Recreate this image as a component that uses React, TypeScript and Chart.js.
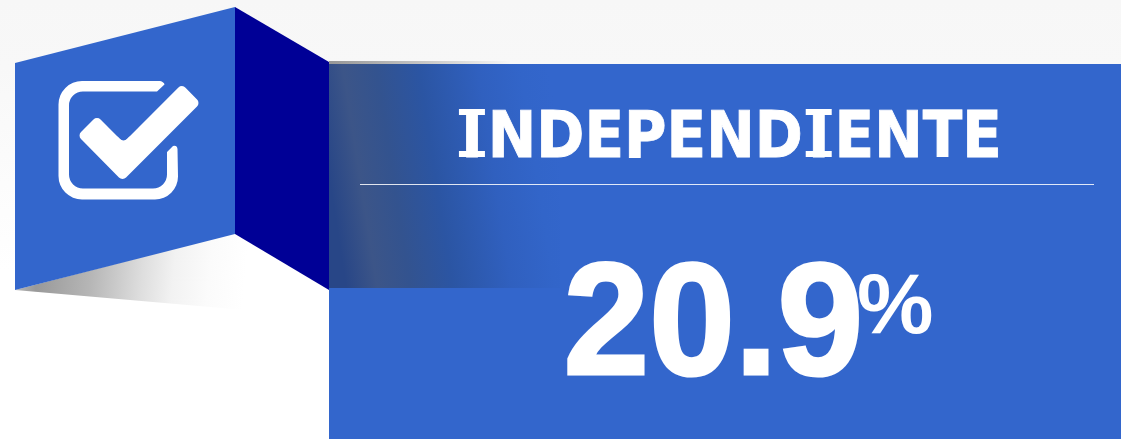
import React, { useEffect, useRef } from "react";
import { Chart, registerables } from "chart.js";

Chart.register(...registerables);

const categories: string[] = ["INDEPENDIENTE"];
const shareValues: number[] = [20.9];
const unitLabels: string[] = ["%"];

const BLUE = "#3366cc";
const NAVY = "#000096";

type P = [number, number];

function poly(ctx: CanvasRenderingContext2D, pts: P[], fill: string | CanvasGradient) {
  ctx.beginPath();
  pts.forEach(([x, y], i) => (i ? ctx.lineTo(x, y) : ctx.moveTo(x, y)));
  ctx.closePath();
  ctx.fillStyle = fill;
  ctx.fill();
}

function roundedPoly(ctx: CanvasRenderingContext2D, pts: P[], r: number) {
  const n = pts.length;
  const mid = (a: P, b: P): P => [(a[0] + b[0]) / 2, (a[1] + b[1]) / 2];
  const s = mid(pts[n - 1], pts[0]);
  ctx.beginPath();
  ctx.moveTo(s[0], s[1]);
  for (let i = 0; i < n; i++) {
    const a = pts[i];
    const b = pts[(i + 1) % n];
    ctx.arcTo(a[0], a[1], b[0], b[1], r);
  }
  ctx.closePath();
  ctx.fillStyle = "#fff";
  ctx.fill();
}

function drawIcon(ctx: CanvasRenderingContext2D) {
  ctx.beginPath();
  ctx.moveTo(160, 81);
  ctx.lineTo(82, 81);
  ctx.arcTo(58.5, 81, 58.5, 104.5, 23.5);
  ctx.lineTo(58.5, 176);
  ctx.arcTo(58.5, 199.5, 82, 199.5, 23.5);
  ctx.lineTo(155, 199.5);
  ctx.arcTo(178, 199.5, 178, 176, 23);
  ctx.lineTo(177.5, 149);
  ctx.quadraticCurveTo(177, 145, 173, 146);
  ctx.lineTo(167, 152);
  ctx.lineTo(167, 174);
  ctx.arcTo(167, 188.5, 153, 188.5, 14);
  ctx.lineTo(83, 188.5);
  ctx.arcTo(69, 188.5, 69, 174.5, 14);
  ctx.lineTo(69, 106);
  ctx.arcTo(69, 91.5, 83, 91.5, 14);
  ctx.lineTo(157, 91.5);
  ctx.lineTo(164.5, 84.5);
  ctx.quadraticCurveTo(164, 82, 160, 81);
  ctx.closePath();
  ctx.fillStyle = "#fff";
  ctx.fill();
  roundedPoly(
    ctx,
    [
      [123.5, 142.5],
      [182, 84],
      [200.5, 103],
      [122.5, 181],
      [77.5, 135.5],
      [97, 116],
    ],
    5
  );
  poly(ctx, [[123.5, 142.5], [130, 136], [123.5, 150], [117, 136]], "#fff");
}

function drawHeading(ctx: CanvasRenderingContext2D, text: string) {
  const size = 58;
  const baseline = 157;
  ctx.save();
  ctx.font = `bold ${size}px "DejaVu Sans"`;
  ctx.textAlign = "center";
  ctx.fillStyle = "#fff";
  ctx.strokeStyle = "#fff";
  ctx.lineWidth = 0.8;
  ctx.lineJoin = "miter";
  const adv = (c: string) => (c === "I" ? 0.546 * size : ctx.measureText(c).width);
  const total = [...text].reduce((sum, c) => sum + adv(c), 0);
  let x = 729 - total / 2;
  for (const c of text) {
    const w = adv(c);
    const cx = x + w / 2;
    ctx.save();
    ctx.translate(cx, baseline);
    ctx.scale(1, 1.11);
    ctx.fillText(c, 0, -0.3);
    ctx.strokeText(c, 0, -0.3);
    ctx.restore();
    if (c === "I") {
      // slab bars of the capital I, which the installed bold face lacks
      ctx.fillRect(cx - 13, baseline - 48, 26, 6);
      ctx.fillRect(cx - 13, baseline - 6, 26, 6);
    }
    x += w;
  }
  ctx.restore();
}

const artwork = {
  id: "artwork",
  beforeDraw(chart: Chart) {
    const ctx = chart.ctx;
    const { width, height } = chart;
    ctx.save();

    const bg = ctx.createLinearGradient(0, 0, 0, 270);
    bg.addColorStop(0, "#f7f7f7");
    bg.addColorStop(0.25, "#f8f8f8");
    bg.addColorStop(1, "#ffffff");
    ctx.fillStyle = bg;
    ctx.fillRect(0, 0, width, height);

    // floor shadow
    const sh = ctx.createLinearGradient(15, 0, 270, 25);
    sh.addColorStop(0, "#e4e4e4");
    sh.addColorStop(0.19, "#999999");
    sh.addColorStop(0.4, "#b6b6b6");
    sh.addColorStop(0.6, "#dedede");
    sh.addColorStop(0.72, "#f2f2f2");
    sh.addColorStop(0.86, "#fbfbfb");
    sh.addColorStop(1, "#ffffff");
    poly(ctx, [[15, 290], [235, 233], [329, 290], [268, 312]], sh);

    poly(ctx, [[15, 63], [235, 7], [235, 234], [15, 290]], BLUE);
    poly(ctx, [[235, 7], [329, 62], [329, 290], [235, 234]], NAVY);

    // main panel
    ctx.fillStyle = BLUE;
    ctx.fillRect(329, 64, width - 329, height - 64);

    // top strip of the fold shadow
    const strip = ctx.createLinearGradient(329, 0, 510, 0);
    strip.addColorStop(0, "#979797");
    strip.addColorStop(0.5, "#c4c4c4");
    strip.addColorStop(1, "#f7f7f7");
    ctx.fillStyle = strip;
    ctx.fillRect(329, 61, 181, 3);

    // fold shadow, tilted
    const fold = ctx.createLinearGradient(329, 176, 560, 140);
    fold.addColorStop(0, "#284687");
    fold.addColorStop(0.13, "#3c5588");
    fold.addColorStop(0.27, "#33538f");
    fold.addColorStop(0.45, "#2b55a3");
    fold.addColorStop(0.7, "#3060bf");
    fold.addColorStop(0.88, "#3265c9");
    fold.addColorStop(1, BLUE);
    ctx.fillStyle = fold;
    ctx.fillRect(329, 64, 231, 224);

    // divider
    ctx.fillStyle = "rgba(255,255,255,0.85)";
    ctx.fillRect(360, 184, 734, 1);

    drawIcon(ctx);

    // texts
    ctx.fillStyle = "#fff";
    ctx.textBaseline = "alphabetic";
    drawHeading(ctx, categories[0]);

    ctx.textAlign = "left";
    ctx.strokeStyle = "#fff";
    ctx.lineJoin = "miter";
    ctx.lineWidth = 3;
    ctx.font = 'bold 154px "Liberation Sans"';
    const num = shareValues[0].toFixed(1);
    ctx.save();
    ctx.translate(563.5, 374);
    ctx.scale(1, 1.04);
    ctx.fillText(num, 0, 0);
    ctx.strokeText(num, 0, 0);
    ctx.restore();

    ctx.font = 'bold 86px "Liberation Sans"';
    ctx.fillText(unitLabels[0], 857, 333);

    ctx.restore();
  },
};

export default function App() {
  const ref = useRef<HTMLCanvasElement | null>(null);

  useEffect(() => {
    document.body.style.margin = "0";
    document.body.style.overflow = "hidden";
    const chart = new Chart(ref.current as HTMLCanvasElement, {
      type: "bar",
      data: {
        labels: categories,
        datasets: [{ label: categories[0], data: shareValues, backgroundColor: "transparent", borderWidth: 0 }],
      },
      options: {
        animation: false,
        responsive: false,
        layout: { padding: 0 },
        plugins: { legend: { display: false }, tooltip: { enabled: false }, title: { display: false } },
        scales: { x: { display: false }, y: { display: false } },
      },
      plugins: [artwork],
    });
    return () => chart.destroy();
  }, []);

  return <canvas ref={ref} width={1121} height={439} style={{ display: "block" }} />;
}
